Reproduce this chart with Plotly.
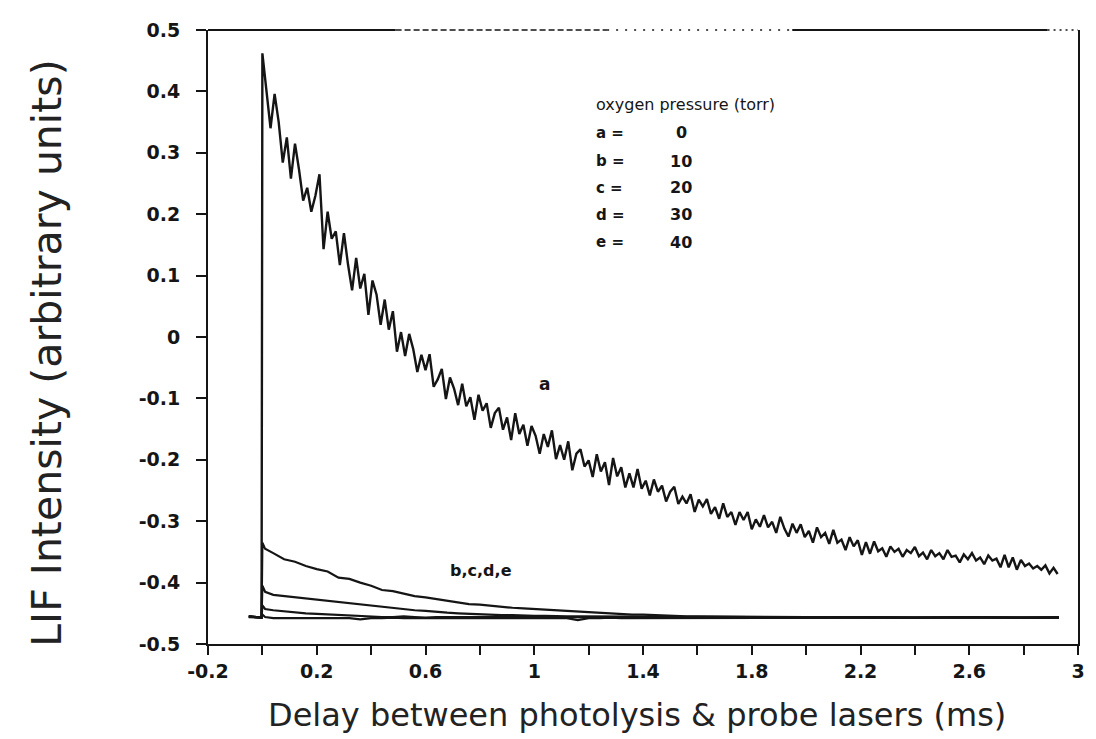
import plotly.graph_objects as go

# ---------------- data ----------------
# curve a (oxygen pressure 0 torr): sampled every 0.015 ms from 0 to 2.925 ms
a_t0 = 0.0
a_dt = 0.015
a_pre_x = [-0.05, -0.003]
a_pre_y = [-0.456, -0.457]
a_vals = [
    0.462, 0.400, 0.340, 0.396, 0.350, 0.284, 0.325, 0.258, 0.315, 0.272,
    0.222, 0.243, 0.204, 0.230, 0.265, 0.143, 0.204, 0.160, 0.172, 0.117,
    0.169, 0.118, 0.076, 0.129, 0.079, 0.103, 0.036, 0.092, 0.069, 0.020,
    0.061, 0.012, 0.042, -0.024, 0.008, -0.031, 0.005, -0.020, -0.057, -0.029,
    -0.054, -0.028, -0.081, -0.069, -0.052, -0.101, -0.066, -0.084, -0.111, -0.076,
    -0.113, -0.098, -0.135, -0.094, -0.120, -0.108, -0.148, -0.124, -0.115, -0.151,
    -0.131, -0.168, -0.124, -0.158, -0.143, -0.177, -0.145, -0.161, -0.190, -0.158,
    -0.179, -0.152, -0.199, -0.176, -0.200, -0.170, -0.217, -0.190, -0.183, -0.211,
    -0.201, -0.228, -0.191, -0.219, -0.204, -0.241, -0.197, -0.227, -0.212, -0.245,
    -0.222, -0.245, -0.215, -0.247, -0.234, -0.258, -0.232, -0.252, -0.242, -0.268,
    -0.252, -0.244, -0.272, -0.260, -0.271, -0.256, -0.285, -0.265, -0.276, -0.264,
    -0.288, -0.277, -0.296, -0.271, -0.293, -0.285, -0.306, -0.285, -0.298, -0.285,
    -0.313, -0.297, -0.309, -0.290, -0.310, -0.301, -0.319, -0.293, -0.312, -0.325,
    -0.304, -0.319, -0.305, -0.326, -0.316, -0.335, -0.310, -0.326, -0.319, -0.337,
    -0.314, -0.335, -0.330, -0.347, -0.326, -0.341, -0.331, -0.355, -0.334, -0.353,
    -0.333, -0.349, -0.344, -0.358, -0.341, -0.350, -0.345, -0.358, -0.347, -0.352,
    -0.342, -0.357, -0.351, -0.362, -0.347, -0.357, -0.352, -0.362, -0.347, -0.358,
    -0.356, -0.367, -0.354, -0.362, -0.352, -0.364, -0.359, -0.370, -0.356, -0.364,
    -0.361, -0.375, -0.355, -0.375, -0.359, -0.379, -0.363, -0.373, -0.369, -0.377,
    -0.373, -0.379, -0.372, -0.385, -0.376, -0.386,
]

# curves b..e (10, 20, 30, 40 torr) share one time grid
bcde_x = ([-0.05, -0.003, 0.0, 0.01]
          + [round(0.04 * k, 2) for k in range(1, 41)]
          + [1.8, 2.0, 2.2, 2.4, 2.6, 2.8, 2.93])
b_vals = [
    -0.455, -0.457, -0.335, -0.345,
    -0.352, -0.362, -0.366, -0.373, -0.378, -0.382, -0.392, -0.394, -0.400, -0.405,
    -0.412, -0.414, -0.418, -0.422, -0.424, -0.427, -0.430, -0.432, -0.435, -0.436,
    -0.438, -0.439, -0.441, -0.442, -0.443, -0.445, -0.445, -0.447, -0.447, -0.448,
    -0.450, -0.450, -0.451, -0.452, -0.452, -0.453, -0.454, -0.454, -0.455, -0.455,
    -0.456, -0.456, -0.456, -0.457, -0.456, -0.457, -0.456,
]
c_vals = [
    -0.455, -0.457, -0.405, -0.415,
    -0.420, -0.422, -0.424, -0.425, -0.427, -0.429, -0.431, -0.433, -0.435, -0.437,
    -0.439, -0.441, -0.443, -0.445, -0.446, -0.448, -0.449, -0.450, -0.451, -0.452,
    -0.452, -0.453, -0.453, -0.454, -0.454, -0.454, -0.455, -0.455, -0.455, -0.455,
    -0.455, -0.456, -0.455, -0.456, -0.456, -0.456, -0.455, -0.456, -0.456, -0.456,
    -0.456, -0.457, -0.456, -0.457, -0.456, -0.457, -0.457,
]
d_vals = [
    -0.455, -0.457, -0.437, -0.443,
    -0.445, -0.447, -0.449, -0.450, -0.451, -0.452, -0.453, -0.454, -0.455, -0.455,
    -0.456, -0.456, -0.455, -0.456, -0.457, -0.456, -0.456, -0.457, -0.456, -0.456,
    -0.457, -0.456, -0.456, -0.457, -0.456, -0.457, -0.456, -0.456, -0.457, -0.456,
    -0.457, -0.456, -0.457, -0.456, -0.456, -0.457, -0.456, -0.457, -0.456, -0.457,
    -0.457, -0.456, -0.457, -0.457, -0.456, -0.457, -0.457,
]
e_vals = [
    -0.455, -0.457, -0.452, -0.456,
    -0.458, -0.458, -0.457, -0.458, -0.458, -0.458, -0.457, -0.458, -0.460, -0.458,
    -0.458, -0.457, -0.458, -0.458, -0.458, -0.457, -0.458, -0.458, -0.458, -0.457,
    -0.458, -0.458, -0.458, -0.457, -0.458, -0.458, -0.458, -0.458, -0.461, -0.458,
    -0.458, -0.457, -0.458, -0.458, -0.458, -0.457, -0.458, -0.458, -0.458, -0.458,
    -0.457, -0.458, -0.457, -0.458, -0.457, -0.458, -0.457,
]

legend_title = "oxygen pressure (torr)"
legend_letters = ["a", "b", "c", "d", "e"]
legend_pressures = ["0", "10", "20", "30", "40"]

x_tickvals = [-0.2, 0, 0.2, 0.4, 0.6, 0.8, 1, 1.2, 1.4, 1.6, 1.8, 2, 2.2, 2.4, 2.6, 2.8, 3]
x_ticktext = ["-0.2", "", "0.2", "", "0.6", "", "1", "", "1.4", "", "1.8", "", "2.2", "", "2.6", "", "3"]
y_tickvals = [-0.5, -0.4, -0.3, -0.2, -0.1, 0, 0.1, 0.2, 0.3, 0.4, 0.5]
y_ticktext = ["-0.5", "-0.4", "-0.3", "-0.2", "-0.1", "0", "0.1", "0.2", "0.3", "0.4", "0.5"]

x_title = "Delay between photolysis & probe lasers (ms)"
y_title = "LIF Intensity (arbitrary units)"

# ---------------- figure ----------------
INK = "#151515"
FONT = "DejaVu Sans"

a_x = a_pre_x + [round(a_t0 + a_dt * k, 4) for k in range(len(a_vals))]
a_y = a_pre_y + a_vals

fig = go.Figure()
for yv in [e_vals, d_vals, c_vals, b_vals]:
    fig.add_trace(go.Scatter(x=bcde_x, y=yv, mode="lines",
                             line=dict(color=INK, width=2.2), showlegend=False,
                             hoverinfo="skip"))
fig.add_trace(go.Scatter(x=a_x, y=a_y, mode="lines",
                         line=dict(color=INK, width=2.4), showlegend=False,
                         hoverinfo="skip"))

annotations = []
# legend block
annotations.append(dict(x=1.22, y=0.379, xref="x", yref="y", text=legend_title,
                        showarrow=False, xanchor="left", yanchor="middle",
                        font=dict(family=FONT, size=16, color=INK)))
line_y = [0.333, 0.286, 0.243, 0.199, 0.154]
for letter, pres, yy in zip(legend_letters, legend_pressures, line_y):
    annotations.append(dict(x=1.22, y=yy, xref="x", yref="y", text="<b>%s =</b>" % letter,
                            showarrow=False, xanchor="left", yanchor="middle",
                            font=dict(family=FONT, size=15, color=INK)))
    annotations.append(dict(x=1.54, y=yy, xref="x", yref="y", text="<b>%s</b>" % pres,
                            showarrow=False, xanchor="center", yanchor="middle",
                            font=dict(family=FONT, size=16, color=INK)))
# curve labels
annotations.append(dict(x=1.036, y=-0.076, xref="x", yref="y", text="<b>a</b>",
                        showarrow=False, font=dict(family=FONT, size=17, color=INK)))
annotations.append(dict(x=0.804, y=-0.381, xref="x", yref="y", text="<b>b,c,d,e</b>",
                        showarrow=False, font=dict(family=FONT, size=16, color=INK)))
# axis titles
annotations.append(dict(x=-0.186, y=0.473, xref="paper", yref="paper", text=y_title,
                        textangle=-90, showarrow=False, xanchor="center", yanchor="middle",
                        font=dict(family=FONT, size=41, color="#222222")))
annotations.append(dict(x=0.493, y=-0.116, xref="paper", yref="paper", text=x_title,
                        showarrow=False, xanchor="center", yanchor="middle",
                        font=dict(family=FONT, size=32, color="#222222")))

# top frame edge: partly faded in the scan (solid / dashed / dotted pieces)
top_edge = [(-0.2, 0.49, "solid", 2), (0.49, 1.268, "6px,3px", 1.6),
            (1.268, 1.949, "2px,7px", 1.6), (1.949, 2.888, "solid", 2.2),
            (2.888, 3.0, "2px,4px", 1.6)]
shapes = [dict(type="line", xref="x", yref="paper", x0=s, x1=e, y0=1, y1=1,
               line=dict(color=INK, width=w, dash=d)) for s, e, d, w in top_edge]

# page has an 8px body margin, so the figure is sized to the remaining area
fig.update_layout(
    width=1088, height=731,
    margin=dict(l=200, r=11, t=14, b=95),
    paper_bgcolor="white", plot_bgcolor="white",
    annotations=annotations, shapes=shapes,
    showlegend=False,
)
fig.update_xaxes(range=[-0.2, 3.0], tickmode="array", tickvals=x_tickvals, ticktext=x_ticktext,
                 ticks="outside", ticklen=9, tickwidth=2, tickcolor=INK,
                 showline=True, linewidth=2, linecolor=INK, mirror=False,
                 showgrid=False, zeroline=False,
                 tickfont=dict(family=FONT, size=19, color=INK, weight="bold"))
fig.update_yaxes(range=[-0.5, 0.5], tickmode="array", tickvals=y_tickvals, ticktext=y_ticktext,
                 ticks="outside", ticklen=10, tickwidth=2, tickcolor=INK,
                 showline=True, linewidth=2, linecolor=INK, mirror=True,
                 showgrid=False, zeroline=False, ticklabelstandoff=12,
                 tickfont=dict(family=FONT, size=19, color=INK, weight="bold"))

fig.write_html("out.html")
